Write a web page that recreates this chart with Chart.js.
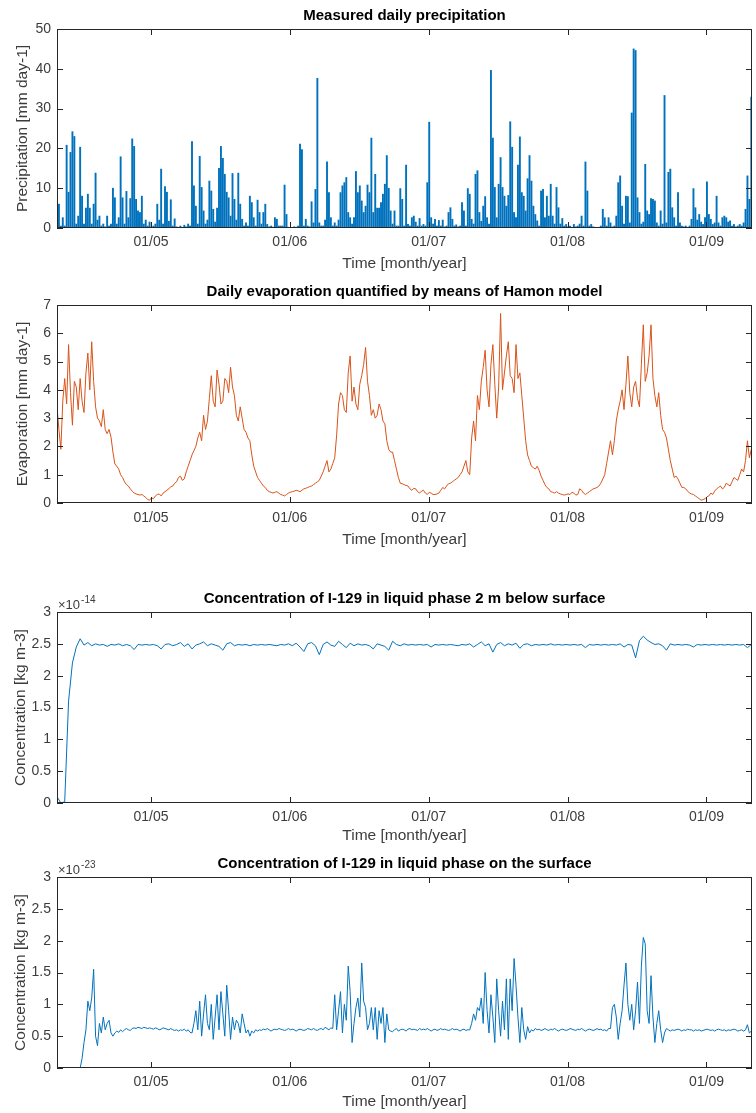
<!DOCTYPE html>
<html>
<head>
<meta charset="utf-8">
<script src="https://cdn.jsdelivr.net/npm/chart.js@4.4.1/dist/chart.umd.min.js"></script>
<style>
  body { margin: 0; background: #fff; }
  canvas { position: absolute; left: 0; }
</style>
</head>
<body>
<canvas id="precip" width="756" height="275" style="top:0px"></canvas>
<canvas id="evap" width="756" height="285" style="top:275px"></canvas>
<canvas id="conc2m" width="756" height="285" style="top:560px"></canvas>
<canvas id="concSurf" width="756" height="268" style="top:845px"></canvas>
<script>
// time axis (fractional years), ticks at 1 January
const xStart = 2004.323;
const xEnd = 2009.328;
const tickYears = [2005, 2006, 2007, 2008, 2009];
const tickLabels = ['01/05', '01/06', '01/07', '01/08', '01/09'];

// sampling of the series
const fineStep = 1 / 72;   // precipitation, evaporation, surface conc.
const coarseStep = 1 / 36; // conc. 2 m below surface

// precipitation [mm day-1]
const precipValues = [1,6,0.5,2.6,0.5,20.8,9,19,24.2,23,
  1,3,20.3,8,1,5,8.5,5,1,6,
  13.8,2,3,0.5,1,0.3,3,0.5,1,10,
  7.6,1,2.6,17.9,7.6,1,9.2,2.6,7.4,22.4,
  20.5,7.2,4.3,3.9,8,1,2,0.5,1.5,0.3,
  0.5,1,6,2,14.8,1,10.4,9,1.7,7.1,
  0.5,2.3,0.3,0.2,0.5,0.1,0.7,0.3,1,0.5,
  21.7,10.6,5.5,1,18,10.2,4.3,1,2,11.8,
  9.3,4.7,1.5,5,15,20.5,17.5,13.5,9,7.6,
  3,13.7,7.2,2,13.8,6,2.2,0.5,1.3,0.5,
  8,6.4,2.6,0.5,7,3.9,1,3.9,6,0.9,
  0.3,0.5,0.2,2.6,2.2,0.5,0.5,0.5,10.8,3.4,
  0.2,0.1,0.1,0.3,0.2,0.5,21.1,19.7,0.5,2.2,
  0.5,0.3,6.6,1.3,9.7,37.6,1.3,0.5,0.5,2,
  16.6,8.9,2.6,0.5,1.3,0.5,2,8.9,10.6,11.4,
  12.7,3.9,2.6,1,2.6,14.2,8.9,10.6,6.8,3.9,
  5.5,10.8,8.9,22.6,3.9,13.5,5,5,6.4,8.5,
  11,18.2,10,4.3,1,4.3,0.5,0.5,9.9,7.2,
  0.5,15.8,0.9,0.5,2.6,3,1.5,0.5,2.4,0.5,
  0.9,0.5,11.4,26.6,2.6,1,2.2,0.5,1.9,0.5,
  2,0.3,0.5,3.9,5.1,2.2,0.5,0.8,0.3,0.5,
  6.4,4.3,0.5,9.9,8.5,2.2,1,13.5,14.4,3.9,
  1.7,5.5,7.9,2.6,1,39.6,22.6,10.2,2.6,11,
  17.7,10.2,8,5.5,8.2,26.7,20.3,3.9,2.6,15.8,
  22.9,8.9,8,4.3,12.4,18.2,11.8,5.5,3.4,1.8,
  0.5,9.3,9.7,2.6,8,3,11,3,1,10.2,
  5.1,1,2.4,0.5,0.9,0.3,0.5,0.2,0.9,0.3,
  0.5,1,3,0.5,16.6,9.3,0.5,0.9,0.3,0.2,
  0.1,0.2,0.5,4.7,2.6,0.5,2.6,1.3,0.3,0.5,
  3,11.4,13.1,5.5,1,8,7.9,1.3,28.9,45,
  44.6,7.6,3.9,1,1.5,16,4.3,3.4,7.4,7.2,
  6.8,1.3,0.5,4.3,1,33.3,1.3,14,14.8,5.1,
  2.6,0.5,8.9,1.3,0.5,0.3,0.5,0.2,0.5,2.2,
  9.9,5.1,2,3.4,1.5,0.9,2.6,11.6,3.4,2.2,
  0.9,1.3,8,1.3,0.5,2.6,3,2.6,1.5,1.8,
  0.5,0.9,0.3,0.5,0.9,0.5,1.3,4.7,13.1,7.2,
  32.9];

// Hamon evaporation [mm day-1]
const evapValues = [3.4,2.6,1.9,3.6,4.4,3.5,5.6,3.9,2.75,4.3,
  4.1,3.3,4.4,3.6,3.2,4.6,5.3,4.0,5.7,4.3,
  3.4,3.0,2.9,2.7,3.3,2.6,2.45,2.6,2.33,1.8,
  1.38,1.3,1.2,1.0,0.9,0.75,0.65,0.6,0.5,0.42,
  0.35,0.32,0.3,0.28,0.3,0.25,0.2,0.12,0.1,0.18,
  0.15,0.25,0.3,0.32,0.25,0.35,0.4,0.45,0.5,0.58,
  0.6,0.7,0.75,0.9,0.95,0.8,0.85,1.1,1.3,1.5,
  1.7,1.85,2.0,2.3,2.5,2.2,3.1,2.6,2.9,3.7,
  4.5,3.6,3.4,4.7,4.2,3.5,3.6,4.4,4.3,3.9,
  4.8,4.1,3.8,3.1,2.9,3.4,3.0,2.6,2.5,2.3,
  2.2,1.7,1.3,1.1,0.9,0.8,0.7,0.6,0.55,0.45,
  0.4,0.38,0.35,0.38,0.4,0.35,0.3,0.28,0.25,0.3,
  0.35,0.38,0.4,0.42,0.45,0.43,0.4,0.45,0.5,0.52,
  0.55,0.58,0.6,0.65,0.7,0.75,0.8,0.95,1.1,1.3,
  1.5,1.1,1.2,1.4,1.6,2.4,3.5,3.9,3.8,3.3,
  3.2,4.6,5.2,3.6,4.1,3.5,3.3,4.2,4.5,4.9,
  5.5,4.3,3.8,3.1,3.3,3.0,3.1,3.5,3.3,2.9,
  2.8,2.2,1.9,1.8,1.8,1.5,1.2,0.9,0.7,0.68,
  0.65,0.62,0.6,0.5,0.45,0.52,0.5,0.4,0.35,0.42,
  0.45,0.35,0.3,0.38,0.35,0.3,0.3,0.32,0.35,0.45,
  0.55,0.5,0.6,0.68,0.7,0.75,0.8,0.85,0.9,1.0,
  1.1,1.3,1.5,1.1,1.0,2.3,2.9,2.2,3.8,3.3,
  4.3,4.8,5.4,4.0,3.4,4.9,5.6,4.2,3.0,4.1,
  6.7,4.0,4.6,5.2,5.7,4.5,4.4,3.9,5.6,4.4,
  4.6,3.8,3.0,2.2,1.7,1.5,1.3,1.25,1.2,1.3,
  1.15,0.95,0.8,0.65,0.55,0.5,0.4,0.38,0.35,0.4,
  0.35,0.32,0.3,0.28,0.3,0.32,0.3,0.38,0.35,0.28,
  0.3,0.5,0.45,0.35,0.3,0.35,0.4,0.45,0.5,0.52,
  0.55,0.6,0.7,0.85,1.0,1.4,1.8,2.2,1.7,2.2,
  2.9,3.3,3.6,4.0,3.3,4.2,5.2,3.9,3.4,4.1,
  4.3,3.7,3.4,4.9,6.3,4.3,4.6,5.2,6.3,4.4,
  3.8,3.4,3.9,3.1,2.6,2.5,2.3,1.9,1.5,1.2,
  0.9,0.95,0.85,0.7,0.55,0.55,0.5,0.42,0.35,0.32,
  0.3,0.25,0.2,0.15,0.1,0.12,0.15,0.22,0.25,0.35,
  0.3,0.42,0.5,0.55,0.6,0.5,0.55,0.7,0.65,0.6,
  0.75,0.9,0.85,0.8,1.0,1.2,1.1,1.5,2.2,1.6,
  1.9];

// I-129 concentration 2 m below surface [x1e-14 kg m-3]
const conc2mValues = [0.1,0.0,0.02,1.6,2.2,2.45,2.58,2.48,2.52,2.47,
  2.5,2.48,2.49,2.46,2.49,2.48,2.5,2.47,2.49,2.47,
  2.41,2.49,2.48,2.49,2.48,2.49,2.47,2.42,2.49,2.5,
  2.47,2.49,2.52,2.46,2.5,2.42,2.48,2.5,2.53,2.47,
  2.5,2.48,2.46,2.4,2.5,2.52,2.47,2.49,2.48,2.49,
  2.47,2.49,2.48,2.49,2.48,2.49,2.48,2.47,2.49,2.48,
  2.5,2.47,2.51,2.45,2.38,2.5,2.52,2.47,2.33,2.49,
  2.53,2.48,2.46,2.54,2.49,2.44,2.51,2.47,2.5,2.48,
  2.49,2.47,2.42,2.5,2.48,2.46,2.4,2.54,2.49,2.47,
  2.5,2.48,2.49,2.48,2.49,2.48,2.49,2.45,2.49,2.48,
  2.49,2.48,2.49,2.48,2.47,2.49,2.48,2.5,2.45,2.49,
  2.53,2.47,2.5,2.37,2.49,2.52,2.47,2.5,2.48,2.51,
  2.43,2.49,2.5,2.47,2.49,2.48,2.49,2.48,2.5,2.48,
  2.49,2.48,2.49,2.48,2.49,2.48,2.49,2.44,2.49,2.48,
  2.49,2.48,2.49,2.48,2.49,2.48,2.5,2.45,2.49,2.48,
  2.28,2.55,2.62,2.56,2.52,2.49,2.5,2.47,2.4,2.5,
  2.48,2.49,2.48,2.49,2.48,2.45,2.49,2.48,2.49,2.48,
  2.49,2.48,2.49,2.48,2.49,2.48,2.49,2.48,2.49,2.44,
  2.49];

// I-129 concentration on the surface [x1e-23 kg m-3]
const concSurfValues = [0,0,0,0,0,0,0,0,0,0,0,0,0,
  0.15,0.4,0.6,1.05,0.9,1.1,1.55,0.5,0.35,0.7,0.55,0.8,0.6,0.7,0.75,0.55,0.5,0.55,0.58,
  0.56,0.6,0.57,0.6,0.62,0.6,0.59,0.62,0.63,0.62,0.64,0.63,0.62,0.64,0.63,0.62,0.63,0.62,0.61,
  0.63,0.62,0.6,0.61,0.63,0.62,0.61,0.6,0.62,0.6,0.59,0.6,0.58,0.6,0.59,0.61,0.58,0.6,0.56,
  0.55,0.7,0.9,0.6,1.05,0.5,0.85,1.15,0.7,0.6,1.0,0.45,0.8,1.15,0.6,1.2,0.85,0.5,1.3,0.9,
  0.45,0.8,0.6,0.75,0.7,0.55,0.85,0.7,0.55,0.6,0.5,0.58,0.55,0.6,
  0.58,0.6,0.59,0.61,0.6,0.62,0.6,0.58,0.6,0.61,0.6,0.62,0.61,0.6,0.59,0.6,0.62,0.6,0.61,0.6,
  0.58,0.6,0.61,0.6,0.59,0.6,0.62,0.61,0.6,0.62,0.6,0.59,0.61,0.62,0.6,0.64,0.62,0.6,0.63,
  0.62,1.15,0.6,0.9,1.2,0.55,1.0,0.75,1.6,1.2,0.4,0.7,0.95,1.1,0.8,1.65,1.05,0.95,0.6,0.7,
  0.95,0.6,0.95,0.45,0.9,0.7,0.95,0.4,0.85,0.6,0.58,
  0.57,0.6,0.62,0.58,0.6,0.61,0.6,0.58,0.61,0.62,0.6,0.61,0.6,0.59,0.62,0.6,0.61,0.6,0.62,0.6,
  0.58,0.6,0.61,0.59,0.6,0.62,0.6,0.61,0.6,0.59,0.6,0.62,0.6,0.61,0.6,0.58,0.6,0.61,0.59,0.6,
  0.6,0.7,0.85,0.75,0.95,0.9,1.1,0.7,1.5,0.9,0.55,1.15,0.8,0.4,1.4,0.9,0.5,1.05,0.6,1.4,
  0.45,1.4,0.9,1.72,1.3,0.8,0.4,0.95,0.6,0.45,0.65,0.55,0.6,
  0.58,0.62,0.6,0.61,0.59,0.6,0.62,0.6,0.59,0.61,0.6,0.62,0.6,0.58,0.6,0.61,0.6,0.59,0.6,0.62,
  0.61,0.6,0.59,0.61,0.6,0.62,0.6,0.58,0.6,0.61,0.6,0.59,0.6,0.62,0.6,0.61,0.59,0.6,0.58,0.62,
  0.62,0.95,1.0,0.8,0.45,0.7,0.9,1.3,1.65,1.0,0.75,1.0,0.6,0.9,1.35,0.7,1.6,2.05,1.95,0.9,
  0.7,1.45,0.8,0.4,0.7,0.9,0.6,0.4,0.55,0.62,0.6,
  0.58,0.6,0.59,0.6,0.61,0.6,0.58,0.6,0.59,0.61,0.6,0.6,0.58,0.6,0.59,0.6,0.58,0.59,0.6,0.61,
  0.6,0.59,0.6,0.58,0.6,0.61,0.6,0.59,0.6,0.58,0.6,0.59,0.6,0.61,0.6,0.58,0.59,0.6,0.58,0.6,
  0.68,0.55,0.58];

const FONT = '"Liberation Sans", Arial, sans-serif';
const TEXT = '#3c3c3c';
const AXES = '#262626';
const BLUE = '#0072BD';
const ORANGE = '#D95319';

function toPoints(values, step) {
    return values.map((v, i) => ({ x: xStart + i * step, y: v }));
}

// MATLAB style box with inward ticks, plus the x10^n factor
const matlabAxes = {
    id: 'matlabAxes',
    afterDatasetsDraw(chart, args, opts) {
        const ctx = chart.ctx;
        const a = chart.chartArea;
        const xs = chart.scales.x, ys = chart.scales.y;
        ctx.save();
        ctx.strokeStyle = AXES;
        ctx.lineWidth = 1;
        ctx.strokeRect(a.left + 0.5, a.top + 0.5, a.right - a.left - 1, a.bottom - a.top - 1);
        ctx.beginPath();
        xs.ticks.forEach(t => {
            const px = Math.round(xs.getPixelForValue(t.value)) + 0.5;
            ctx.moveTo(px, a.bottom); ctx.lineTo(px, a.bottom - 6);
            ctx.moveTo(px, a.top); ctx.lineTo(px, a.top + 6);
        });
        ys.ticks.forEach(t => {
            const py = Math.round(ys.getPixelForValue(t.value)) + 0.5;
            ctx.moveTo(a.left, py); ctx.lineTo(a.left + 6, py);
            ctx.moveTo(a.right, py); ctx.lineTo(a.right - 6, py);
        });
        ctx.stroke();
        if (opts && opts.exponent) {
            ctx.fillStyle = TEXT;
            ctx.textBaseline = 'alphabetic';
            ctx.textAlign = 'left';
            ctx.font = '13px ' + FONT;
            const base = '\u00d710';
            ctx.fillText(base, a.left + 1, a.top - 3);
            const w = ctx.measureText(base).width;
            ctx.font = '10px ' + FONT;
            ctx.fillText(opts.exponent, a.left + 1 + w + 1, a.top - 9);
        }
        ctx.restore();
    }
};

function makeOptions(p) {
    return {
        responsive: false,
        animation: false,
        layout: { padding: { left: 0, right: 4, top: 0, bottom: 0 } },
        plugins: {
            legend: { display: false },
            tooltip: { enabled: false },
            title: {
                display: true,
                text: p.title,
                fullSize: false,
                color: '#000',
                font: { family: FONT, size: 15, weight: 'bold', lineHeight: 1.2 },
                padding: { top: p.titleTop, bottom: 4 }
            },
            matlabAxes: { exponent: p.exponent }
        },
        scales: {
            x: {
                type: 'linear',
                min: xStart,
                max: xEnd,
                offset: false,
                afterBuildTicks: s => { s.ticks = tickYears.map(v => ({ value: v })); },
                afterFit: s => { s.height = p.xAxisHeight; },
                grid: { display: false, drawTicks: false },
                border: { display: false },
                ticks: {
                    autoSkip: false, maxRotation: 0, padding: p.xTickPad,
                    color: TEXT, font: { family: FONT, size: 14 },
                    callback: v => tickLabels[tickYears.indexOf(v)]
                },
                title: {
                    display: true, text: 'Time [month/year]', color: TEXT,
                    font: { family: FONT, size: 15.5, lineHeight: 1.2 },
                    padding: { top: 0, bottom: p.xTitlePad }
                }
            },
            y: {
                min: p.yMin,
                max: p.yMax,
                afterFit: s => { s.width = 57; },
                grid: { display: false, drawTicks: false },
                border: { display: false },
                ticks: {
                    stepSize: p.yStep, padding: 6,
                    color: TEXT, font: { family: FONT, size: 14 },
                    callback: v => String(v)
                },
                title: {
                    display: true, text: p.yTitle, color: TEXT,
                    font: { family: FONT, size: 15.5, lineHeight: 1.2 },
                    padding: { top: p.yTitlePad, bottom: 0 }
                }
            }
        }
    };
}

new Chart(document.getElementById('precip'), {
    type: 'bar',
    data: {
        datasets: [{
            data: toPoints(precipValues, fineStep),
            backgroundColor: BLUE,
            barThickness: 1.25,
            borderWidth: 0
        }]
    },
    options: makeOptions({
        title: 'Measured daily precipitation', titleTop: 7,
        xAxisHeight: 47, xTickPad: 6, xTitlePad: 2,
        yMin: 0, yMax: 50, yStep: 10, yTitle: 'Precipitation [mm day-1]', yTitlePad: 13
    }),
    plugins: [matlabAxes]
});

new Chart(document.getElementById('evap'), {
    type: 'line',
    data: {
        datasets: [{
            data: toPoints(evapValues, fineStep),
            borderColor: ORANGE, borderWidth: 1, pointRadius: 0, tension: 0
        }]
    },
    options: makeOptions({
        title: 'Daily evaporation quantified by means of Hamon model', titleTop: 8,
        xAxisHeight: 57, xTickPad: 7, xTitlePad: 11,
        yMin: 0, yMax: 7, yStep: 1, yTitle: 'Evaporation [mm day-1]', yTitlePad: 13
    }),
    plugins: [matlabAxes]
});

new Chart(document.getElementById('conc2m'), {
    type: 'line',
    data: {
        datasets: [{
            data: toPoints(conc2mValues, coarseStep),
            borderColor: BLUE, borderWidth: 1, pointRadius: 0, tension: 0
        }]
    },
    options: makeOptions({
        title: 'Concentration of I-129 in liquid phase 2 m below surface', titleTop: 30,
        xAxisHeight: 42, xTickPad: 6, xTitlePad: 0,
        yMin: 0, yMax: 3, yStep: 0.5, yTitle: 'Concentration [kg m-3]', yTitlePad: 11,
        exponent: '-14'
    }),
    plugins: [matlabAxes]
});

new Chart(document.getElementById('concSurf'), {
    type: 'line',
    data: {
        datasets: [{
            data: toPoints(concSurfValues, fineStep),
            borderColor: BLUE, borderWidth: 1, pointRadius: 0, tension: 0
        }]
    },
    options: makeOptions({
        title: 'Concentration of I-129 in liquid phase on the surface', titleTop: 10,
        xAxisHeight: 45, xTickPad: 6, xTitlePad: 2,
        yMin: 0, yMax: 3, yStep: 0.5, yTitle: 'Concentration [kg m-3]', yTitlePad: 11,
        exponent: '-23'
    }),
    plugins: [matlabAxes]
});
</script>
</body>
</html>
